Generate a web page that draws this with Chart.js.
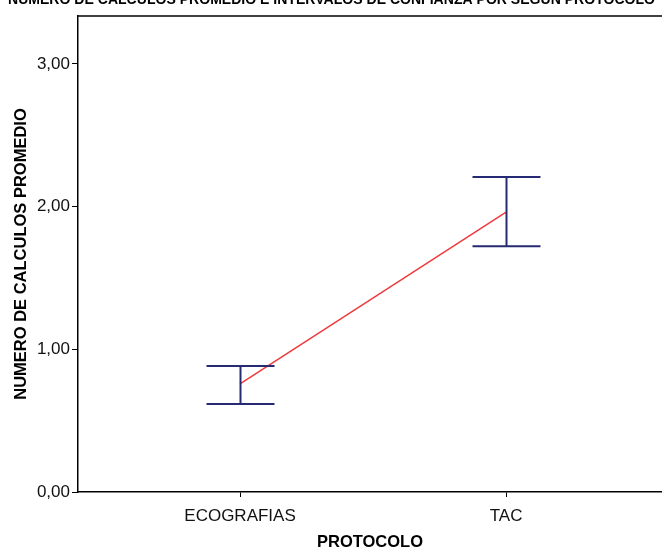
<!DOCTYPE html>
<html>
<head>
<meta charset="utf-8">
<script src="https://cdn.jsdelivr.net/npm/chart.js@4.4.1/dist/chart.umd.min.js"></script>
<style>
  html, body { margin: 0; padding: 0; background: #fff; }
  #wrap { width: 662px; height: 549px; position: relative; }
</style>
</head>
<body>
<div id="wrap"><canvas id="c" width="662" height="549"></canvas></div>
<script>
const chartTitle = 'NUMERO DE CALCULOS PROMEDIO E INTERVALOS DE CONFIANZA POR SEGUN PROTOCOLO'
const categories = ['ECOGRAFIAS', 'TAC']
const means = [0.757, 1.962]
const ciLower = [0.617, 1.722]
const ciUpper = [0.883, 2.207]
const yTicks = [0, 1, 2, 3]

const FONT = '"Liberation Sans", Arial, sans-serif'
const NAVY = '#262a72'
const RED = '#ee3a3d'

// error bars + box frame + clipped title
const errorBars = {
  id: 'errorBars',
  afterDatasetsDraw(chart) {
    const ctx = chart.ctx
    const xs = chart.scales.x, ys = chart.scales.y
    ctx.save()
    ctx.strokeStyle = NAVY
    ctx.lineWidth = 2
    categories.forEach((c, i) => {
      const px = Math.round(xs.getPixelForValue(i + 1)) + 0.5
      const top = ys.getPixelForValue(ciUpper[i])
      const bot = ys.getPixelForValue(ciLower[i])
      ctx.beginPath()
      ctx.moveTo(px, top); ctx.lineTo(px, bot)
      ctx.moveTo(px - 34, top); ctx.lineTo(px + 34, top)
      ctx.moveTo(px - 34, bot); ctx.lineTo(px + 34, bot)
      ctx.stroke()
    })
    ctx.restore()
  },
  afterDraw(chart) {
    const ctx = chart.ctx
    const a = chart.chartArea
    ctx.save()
    ctx.strokeStyle = '#000'
    ctx.lineWidth = 1.5
    ctx.beginPath()
    ctx.moveTo(a.left, a.top); ctx.lineTo(a.right, a.top)
    ctx.stroke()
    ctx.fillStyle = '#000'
    ctx.font = 'bold 14px ' + FONT
    ctx.textBaseline = 'alphabetic'
    ctx.textAlign = 'left'
    const w = ctx.measureText(chartTitle).width
    ctx.translate(8, 4)
    ctx.scale(647 / w, 1)
    ctx.fillText(chartTitle, 0, 0)
    ctx.restore()
  }
}

new Chart(document.getElementById('c'), {
  type: 'line',
  data: {
    datasets: [{
      data: means.map((m, i) => ({ x: i + 1, y: m })),
      borderColor: RED,
      borderWidth: 1.5,
      pointRadius: 0,
      fill: false,
      tension: 0
    }]
  },
  options: {
    responsive: false,
    animation: false,
    layout: { padding: { top: 16, right: 0, left: 0, bottom: 0 } },
    plugins: { legend: { display: false }, tooltip: { enabled: false } },
    scales: {
      x: {
        type: 'linear',
        min: 0.391,
        max: 2.586,
        afterBuildTicks: s => { s.ticks = categories.map((c, i) => ({ value: i + 1 })) },
        afterFit: s => { s.height = 57 },
        grid: { drawOnChartArea: false, tickLength: 5, color: '#000', tickWidth: 1 },
        border: { display: true, color: '#000', width: 1.5 },
        ticks: {
          color: '#111', padding: 9,
          font: { family: FONT, size: 17 },
          maxRotation: 0,
          callback: v => categories[v - 1]
        },
        title: {
          display: true, text: 'PROTOCOLO', color: '#000',
          font: { family: FONT, size: 16.5, weight: 'bold' },
          padding: { top: 7, bottom: -3 }
        }
      },
      y: {
        min: 0,
        max: 3.336,
        afterBuildTicks: s => { s.ticks = yTicks.map(v => ({ value: v })) },
        afterFit: s => { s.width = 78 },
        grid: { drawOnChartArea: false, tickLength: 6, color: '#000', tickWidth: 1 },
        border: { display: true, color: '#000', width: 1.5 },
        ticks: {
          color: '#111', padding: 2,
          font: { family: FONT, size: 17 },
          callback: v => v.toFixed(2).replace('.', ',')
        },
        title: {
          display: true, text: 'NUMERO DE CALCULOS PROMEDIO', color: '#000',
          font: { family: FONT, size: 16.5, weight: 'bold' },
          padding: { top: 12, bottom: 0 }
        }
      }
    }
  },
  plugins: [errorBars]
})
</script>
</body>
</html>
